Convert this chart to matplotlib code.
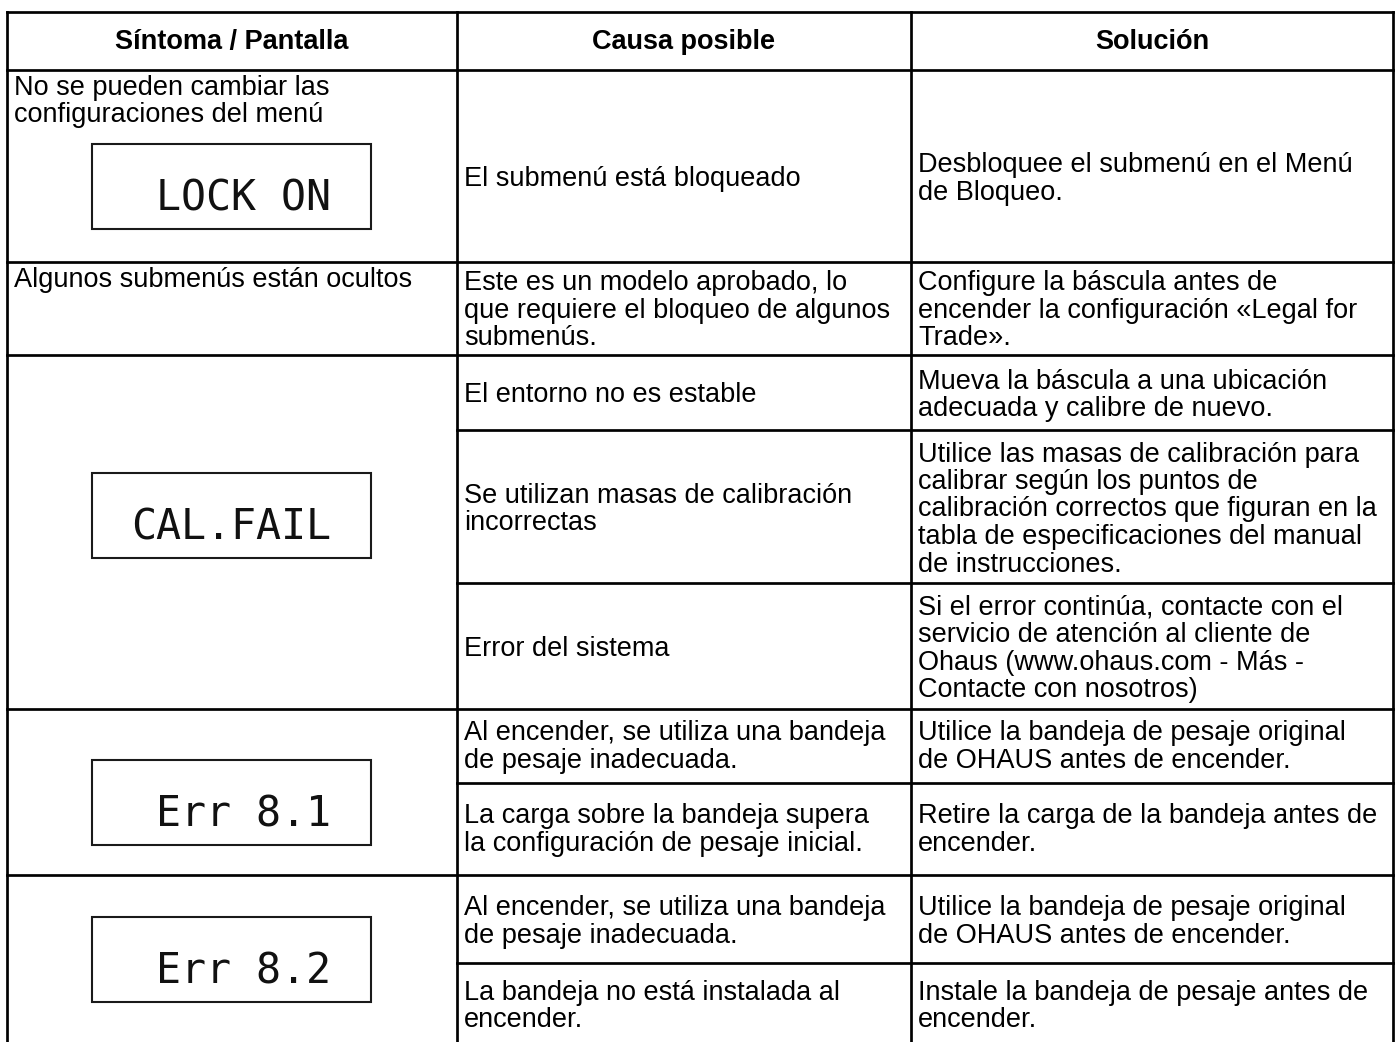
import matplotlib
import matplotlib.pyplot as plt
from matplotlib.patches import Rectangle

matplotlib.use("Agg")

# ---- table content -------------------------------------------------------
HEADERS = ["Síntoma / Pantalla", "Causa posible", "Solución"]

SYMPTOMS = [
    "No se pueden cambiar las\nconfiguraciones del menú",
    "Algunos submenús están ocultos",
    "",
    "",
    "",
]
DISPLAYS = ["LOCK ON", None, "CAL.FAIL", "Err 8.1", "Err 8.2"]

CAUSES = [
    "El submenú está bloqueado",
    "Este es un modelo aprobado, lo\nque requiere el bloqueo de algunos\nsubmenús.",
    "El entorno no es estable",
    "Se utilizan masas de calibración\nincorrectas",
    "Error del sistema",
    "Al encender, se utiliza una bandeja\nde pesaje inadecuada.",
    "La carga sobre la bandeja supera\nla configuración de pesaje inicial.",
    "Al encender, se utiliza una bandeja\nde pesaje inadecuada.",
    "La bandeja no está instalada al\nencender.",
]
SOLUTIONS = [
    "Desbloquee el submenú en el Menú\nde Bloqueo.",
    "Configure la báscula antes de\nencender la configuración «Legal for\nTrade».",
    "Mueva la báscula a una ubicación\nadecuada y calibre de nuevo.",
    "Utilice las masas de calibración para\ncalibrar según los puntos de\n"
    "calibración correctos que figuran en la\ntabla de especificaciones del manual\n"
    "de instrucciones.",
    "Si el error continúa, contacte con el\nservicio de atención al cliente de\n"
    "Ohaus (www.ohaus.com - Más -\nContacte con nosotros)",
    "Utilice la bandeja de pesaje original\nde OHAUS antes de encender.",
    "Retire la carga de la bandeja antes de\nencender.",
    "Utilice la bandeja de pesaje original\nde OHAUS antes de encender.",
    "Instale la bandeja de pesaje antes de\nencender.",
]
# symptom block that every cause / solution row belongs to
ROW_GROUP = [0, 1, 2, 2, 2, 3, 3, 4, 4]

# ---- layout (pixels) -----------------------------------------------------
W, H = 1398, 1042
COL_X = [7, 457, 911, 1393]
TOP = 12
HEAD_BOTTOM = 70
ROW_EDGES = [70, 262, 355, 430, 583, 709, 783, 875, 963, 1044]
ROW_SHIFT = [12, 1, 2, 2, 2, 0, 0, 2, 2]
SYMPTOM_PAD = 17          # top of cell -> centre of first line
LCD_TOP = [144, 473, 760, 917]
LCD_W, LCD_H = 279, 85
LCD_LEFT = 92
PAD = 7
PITCH = 27.5
BASE = 8

FONT = "Liberation Sans"
FS = 19.5
LW = 1.95

fig = plt.figure(figsize=(W / 100, H / 100), dpi=100)
ax = fig.add_axes([0, 0, 1, 1])
ax.set_xlim(0, W)
ax.set_ylim(H, 0)
ax.axis("off")


def put_lines(text, x, yc, ha="left", **kw):
    lines = text.split("\n")
    n = len(lines)
    for i, line in enumerate(lines):
        y = yc + (i - (n - 1) / 2) * PITCH + BASE
        ax.text(x, y, line, ha=ha, va="baseline", family=FONT,
                fontsize=FS, color="black", **kw)


def hline(y, x0, x1):
    ax.plot([x0, x1], [y, y], color="black", lw=LW, solid_capstyle="projecting")


def vline(x, y0, y1):
    ax.plot([x, x], [y0, y1], color="black", lw=LW, solid_capstyle="projecting")


# header
for j, head in enumerate(HEADERS):
    xc = (COL_X[j] + COL_X[j + 1]) / 2
    put_lines(head, xc, (TOP + HEAD_BOTTOM) / 2, ha="center", fontweight="bold")

# grid lines
hline(TOP, COL_X[0], COL_X[-1])
hline(HEAD_BOTTOM, COL_X[0], COL_X[-1])
for i in range(1, len(ROW_GROUP)):
    if ROW_GROUP[i] != ROW_GROUP[i - 1]:
        hline(ROW_EDGES[i], COL_X[0], COL_X[-1])
    else:
        hline(ROW_EDGES[i], COL_X[1], COL_X[-1])
for x in COL_X:
    vline(x, TOP, H + 5)

# cause / solution cells
for i, (cause, sol) in enumerate(zip(CAUSES, SOLUTIONS)):
    yc = (ROW_EDGES[i] + ROW_EDGES[i + 1]) / 2 + ROW_SHIFT[i]
    put_lines(cause, COL_X[1] + PAD, yc)
    put_lines(sol, COL_X[2] + PAD, yc)

# symptom cells (top aligned)
for g, sym in enumerate(SYMPTOMS):
    if not sym:
        continue
    top = ROW_EDGES[ROW_GROUP.index(g)]
    n = len(sym.split("\n"))
    yc = top + SYMPTOM_PAD + (n - 1) / 2 * PITCH
    put_lines(sym, COL_X[0] + PAD, yc)

# LCD displays
k = 0
for disp in DISPLAYS:
    if disp is None:
        continue
    y0 = LCD_TOP[k]
    ax.add_patch(Rectangle((LCD_LEFT, y0), LCD_W, LCD_H, fill=False,
                           edgecolor="#1a1a1a", lw=1.5))
    ax.text(LCD_LEFT + LCD_W - 40, y0 + LCD_H / 2 + 24, disp, ha="right",
            va="baseline", family="DejaVu Sans Mono", fontsize=30,
            color="#111111")
    k += 1

fig.savefig("out.png", dpi=100, facecolor="white")
